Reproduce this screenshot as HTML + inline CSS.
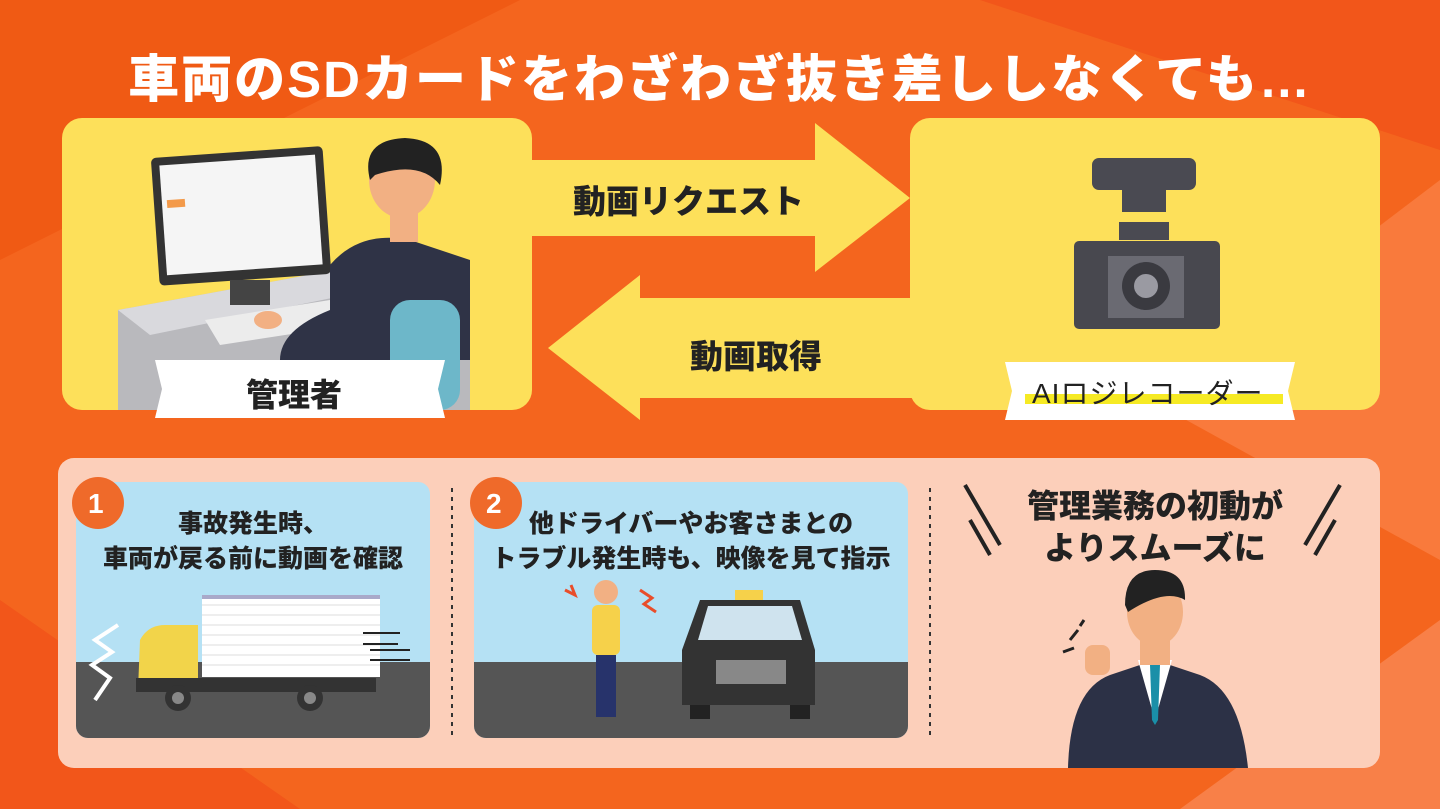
<!DOCTYPE html>
<html><head><meta charset="utf-8"><style>
body{margin:0;width:1440px;height:809px;overflow:hidden;font-family:"Liberation Sans","Noto Sans CJK JP",sans-serif;}
.bg{position:absolute;left:0;top:0;width:1440px;height:809px;background:#f4651e;overflow:hidden}
.a{position:absolute}
.t{position:absolute;font-weight:900;white-space:nowrap;color:#222}
</style></head><body><div class="bg">
<svg class="a" style="left:0;top:0" width="1440" height="809">
<polygon points="0,0 520,0 0,260" fill="#f05a14"/>
<polygon points="1440,180 1440,560 1150,400" fill="#f97a3c"/>
<polygon points="980,0 1440,0 1440,150" fill="#f2561a"/>
<polygon points="0,600 0,809 300,809" fill="#f2561a"/>
<polygon points="1440,620 1440,809 1180,809" fill="#f88048"/>
<rect x="62" y="118" width="470" height="292" rx="20" fill="#fde05a"/>
<rect x="910" y="118" width="470" height="292" rx="20" fill="#fde05a"/>
<polygon points="532,160 815,160 815,123 910,198 815,272 815,236 532,236" fill="#fde05a"/>
<polygon points="910,298 640,298 640,275 548,348 640,420 640,398 910,398" fill="#fde05a"/>
<rect x="530" y="160" width="10" height="76" fill="#fde05a"/>
<rect x="900" y="298" width="12" height="100" fill="#fde05a"/>
<rect x="58" y="458" width="1322" height="310" rx="16" fill="#fccfba"/>
<rect x="76" y="482" width="354" height="256" rx="12" fill="#b5e1f4"/>
<path d="M76 662 H430 V726 a12 12 0 0 1 -12 12 H88 a12 12 0 0 1 -12 -12Z" fill="#555"/>
<rect x="474" y="482" width="434" height="256" rx="12" fill="#b5e1f4"/>
<path d="M474 662 H908 V726 a12 12 0 0 1 -12 12 H486 a12 12 0 0 1 -12 -12Z" fill="#555"/>
<line x1="452" y1="488" x2="452" y2="736" stroke="#333" stroke-width="2" stroke-dasharray="4 5"/>
<line x1="930" y1="488" x2="930" y2="736" stroke="#333" stroke-width="2" stroke-dasharray="4 5"/>
<circle cx="98" cy="503" r="26" fill="#ef6a2a"/>
<circle cx="496" cy="503" r="26" fill="#ef6a2a"/>
<rect x="202" y="595" width="178" height="82" fill="#fff"/>
<rect x="202" y="595" width="178" height="4" fill="#a9a9c9"/>
<g stroke="#ddd" stroke-width="1"><line x1="202" y1="605" x2="380" y2="605"/><line x1="202" y1="615" x2="380" y2="615"/><line x1="202" y1="625" x2="380" y2="625"/><line x1="202" y1="635" x2="380" y2="635"/><line x1="202" y1="645" x2="380" y2="645"/><line x1="202" y1="655" x2="380" y2="655"/><line x1="202" y1="665" x2="380" y2="665"/></g>
<path d="M140 640 Q148 625 165 625 H198 V690 H138Z" fill="#f2d44a"/>
<rect x="136" y="678" width="240" height="14" fill="#333"/>
<circle cx="178" cy="698" r="13" fill="#333"/><circle cx="178" cy="698" r="6" fill="#888"/>
<circle cx="310" cy="698" r="13" fill="#333"/><circle cx="310" cy="698" r="6" fill="#888"/>
<path d="M118 625 L95 640 L112 652 L92 665 L110 678 L95 700" stroke="#fff" stroke-width="4" fill="none"/>
<g stroke="#222" stroke-width="2"><line x1="363" y1="633" x2="400" y2="633"/><line x1="363" y1="644" x2="398" y2="644"/><line x1="370" y1="650" x2="410" y2="650"/><line x1="370" y1="660" x2="410" y2="660"/></g>
<circle cx="606" cy="592" r="12" fill="#f2b083"/>
<rect x="592" y="605" width="28" height="50" rx="6" fill="#f6d14a"/>
<rect x="596" y="655" width="20" height="62" fill="#27336b"/>
<path d="M565 590 l10 5 l-4 -10 M640 590 l12 8 l-8 6 l12 8" stroke="#e94d2a" stroke-width="3" fill="none"/>
<rect x="735" y="590" width="28" height="10" fill="#f6d14a"/>
<path d="M700 600 H800 L815 650 V705 H682 V650Z" fill="#333"/>
<path d="M708 606 H792 L802 640 H698Z" fill="#cfe3ee"/>
<rect x="716" y="660" width="70" height="24" fill="#888"/>
<rect x="690" y="705" width="20" height="14" fill="#222"/><rect x="790" y="705" width="20" height="14" fill="#222"/>
<path d="M1068 768 Q1070 690 1110 675 L1155 660 L1200 675 Q1240 690 1248 768Z" fill="#2c3146"/>
<path d="M1138 660 L1155 720 L1172 660Z" fill="#fff"/>
<path d="M1150 665 L1160 665 L1158 720 L1155 725 L1152 720Z" fill="#1a8fa8"/>
<rect x="1140" y="640" width="30" height="25" fill="#f2b083"/>
<ellipse cx="1155" cy="612" rx="28" ry="34" fill="#f2b083"/>
<path d="M1125 605 Q1125 570 1155 570 Q1186 570 1185 600 Q1165 588 1128 612Z" fill="#222"/>
<rect x="1085" y="645" width="25" height="30" rx="8" fill="#f2b083"/>
<g stroke="#222" stroke-width="3"><line x1="1070" y1="640" x2="1078" y2="630"/><line x1="1063" y1="652" x2="1074" y2="648"/><line x1="1080" y1="626" x2="1084" y2="620"/></g>
<g stroke="#222" stroke-width="4"><line x1="965" y1="485" x2="1000" y2="545"/><line x1="970" y1="520" x2="990" y2="555"/><line x1="1340" y1="485" x2="1305" y2="545"/><line x1="1335" y1="520" x2="1315" y2="555"/></g>
<polygon points="118,310 390,260 470,280 470,410 118,410" fill="#b9b9bd"/>
<polygon points="118,310 390,260 420,280 150,335" fill="#d9d9dd"/>
<rect x="155" y="152" width="172" height="128" rx="5" fill="#333" transform="rotate(-4 240 215)"/>
<rect x="163" y="160" width="156" height="110" fill="#f5f5f5" transform="rotate(-4 240 215)"/>
<rect x="168" y="195" width="18" height="8" fill="#f39a4a" transform="rotate(-4 240 215)"/>
<rect x="230" y="280" width="40" height="25" fill="#444"/>
<polygon points="205,320 330,300 350,325 220,345" fill="#ececec"/>
<path d="M330 265 Q360 230 410 240 L470 260 L470 360 L280 360 Q280 330 330 310Z" fill="#2f3346"/>
<rect x="390" y="300" width="70" height="110" rx="20" fill="#6db7c9"/>
<ellipse cx="402" cy="180" rx="33" ry="38" fill="#f2b083"/>
<path d="M370 180 Q360 140 405 138 Q450 140 440 185 Q420 160 375 175Z" fill="#222"/>
<rect x="390" y="212" width="28" height="30" fill="#f2b083"/>
<ellipse cx="268" cy="320" rx="14" ry="9" fill="#f2b083"/>
<rect x="1092" y="158" width="104" height="32" rx="7" fill="#4a4a52"/>
<rect x="1122" y="190" width="44" height="22" fill="#4a4a52"/>
<rect x="1119" y="222" width="50" height="18" fill="#4a4a52"/>
<rect x="1074" y="241" width="146" height="88" rx="5" fill="#48484f"/>
<rect x="1108" y="256" width="76" height="62" fill="#6a6a72"/>
<circle cx="1146" cy="286" r="24" fill="#3a3a40"/><circle cx="1146" cy="286" r="12" fill="#9a9aa2"/>
<polygon points="155,360 445,360 438,389 445,418 155,418 162,389" fill="#fff"/>
<polygon points="1005,362 1295,362 1288,391 1295,420 1005,420 1012,391" fill="#fff"/>
<rect x="1025" y="394" width="258" height="10" fill="#f6ea24"/>
</svg>
<div class="t" style="left:0;width:1440px;text-align:center;top:38px;font-size:51px;color:#fff;letter-spacing:2px">車両のSDカードをわざわざ抜き差ししなくても…</div>
<div class="t" style="left:573px;top:175px;font-size:33px">動画リクエスト</div>
<div class="t" style="left:690px;top:330px;font-size:33px">動画取得</div>
<div class="t" style="left:246px;top:370px;font-size:32px">管理者</div>
<div class="t" style="left:1032px;top:372px;font-size:28px;font-weight:400;letter-spacing:1px">AIロジレコーダー</div>
<div class="t" style="left:88px;top:488px;font-size:28px;color:#fff">1</div>
<div class="t" style="left:486px;top:488px;font-size:28px;color:#fff">2</div>
<div class="t" style="left:76px;width:354px;text-align:center;top:507px;font-size:25px;line-height:35px">事故発生時、<br>車両が戻る前に動画を確認</div>
<div class="t" style="left:474px;width:434px;text-align:center;top:507px;font-size:25px;line-height:35px">他ドライバーやお客さまとの<br>トラブル発生時も、映像を見て指示</div>
<div class="t" style="left:990px;width:330px;text-align:center;top:485px;font-size:32px;line-height:42px">管理業務の初動が<br>よりスムーズに</div>
</div></body></html>
